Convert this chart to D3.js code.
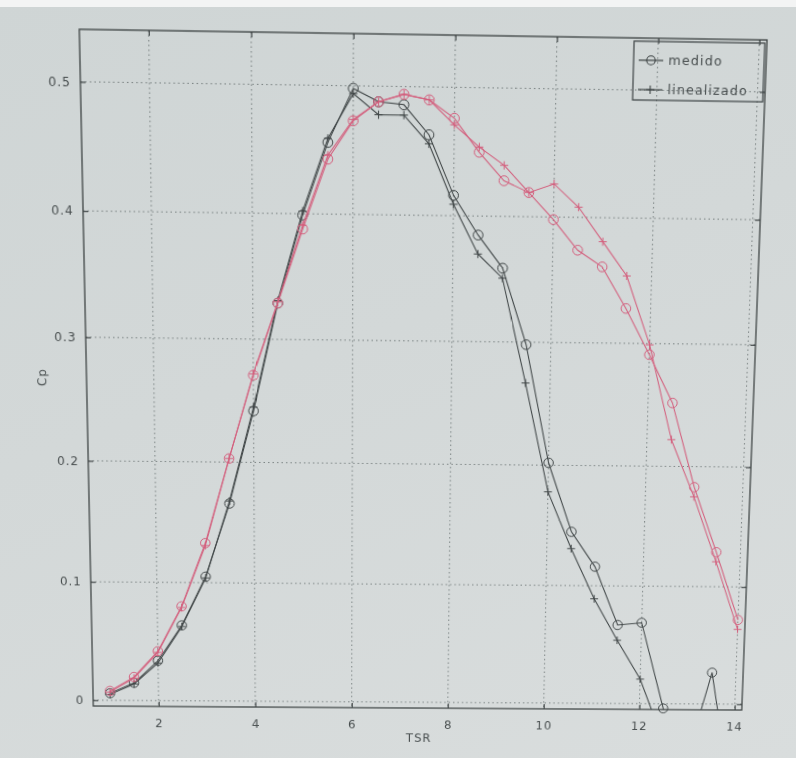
<!DOCTYPE html>
<html>
<head>
<meta charset="utf-8">
<script src="https://cdn.jsdelivr.net/npm/d3@7"></script>
<style>
  html, body { margin: 0; padding: 0; }
  body {
    width: 796px; height: 758px; overflow: hidden; position: relative;
    background: linear-gradient(160deg, #cfd5d5 0%, #d3d8d8 45%, #d9dddd 100%);
  }
  #topstrip { position: absolute; left: 0; top: 0; width: 796px; height: 7px; background: #f3f4f4; }
  #chart { position: absolute; left: 0; top: 0; transform-origin: 0 0; }
  text { font-family: "DejaVu Sans", sans-serif; fill: #484e4f; }
</style>
</head>
<body>
<div id="topstrip"></div>
<svg id="chart" width="796" height="758"></svg>
<script>
// Tip speed ratio samples
const tsr = [1, 1.5, 2, 2.5, 3, 3.5, 4, 4.5, 5, 5.5, 6, 6.5, 7, 7.5, 8, 8.5,
             9, 9.5, 10, 10.5, 11, 11.5, 12, 12.5, 13, 13.5, 14];

// Power coefficient, first rotor (dark curves)
const cpMedidoA = [0.006, 0.015, 0.034, 0.064, 0.105, 0.166, 0.242, 0.329, 0.399, 0.456,
                   0.498, 0.488, 0.486, 0.463, 0.416, 0.385, 0.359, 0.298, 0.202, 0.145,
                   0.116, 0.067, 0.069, -0.004, -0.052, 0.027, -0.085];
const cpLinealizadoA = [0.005, 0.014, 0.032, 0.063, 0.104, 0.168, 0.245, 0.331, 0.402, 0.459,
                        0.494, 0.478, 0.478, 0.456, 0.409, 0.370, 0.351, 0.267, 0.178, 0.131,
                        0.089, 0.054, 0.021, -0.030, -0.080, -0.120, -0.160];

// Power coefficient, second rotor (red curves)
const cpMedidoB = [0.008, 0.020, 0.042, 0.080, 0.133, 0.203, 0.271, 0.329, 0.388, 0.443,
                   0.473, 0.488, 0.494, 0.490, 0.476, 0.450, 0.428, 0.419, 0.398, 0.374,
                   0.361, 0.328, 0.291, 0.252, 0.183, 0.129, 0.072];
const cpLinealizadoB = [0.007, 0.019, 0.041, 0.079, 0.131, 0.203, 0.272, 0.330, 0.391, 0.446,
                        0.474, 0.488, 0.494, 0.490, 0.471, 0.454, 0.440, 0.419, 0.426, 0.408,
                        0.381, 0.354, 0.299, 0.222, 0.175, 0.121, 0.064];

const xTicks = [2, 4, 6, 8, 10, 12, 14];
const yTicks = [0, 0.1, 0.2, 0.3, 0.4, 0.5];
const legendLabels = ["medido", "linealizado"];

// Axes box (flat coordinates) and the tilted quadrilateral the screen shows it in
const L = 86, T = 32, R = 754, B = 706;
const screenQuad = [[79.3, 29.3], [767, 40], [741.7, 710], [93.3, 706]];

const dark = "#3f4546";
const red = "#d35f7d";

const x = d3.scaleLinear().domain([0.65, 14.15]).range([L, R]);
const y = d3.scaleLinear().domain([-0.005, 0.54]).range([B, T]);

const svg = d3.select("#chart");

// projective map from the flat box onto the quadrilateral
function quadTransform(rx, ry, w, h, q) {
  const [p0, p1, p2, p3] = q;
  const dx1 = p1[0] - p2[0], dx2 = p3[0] - p2[0], sx = p0[0] - p1[0] + p2[0] - p3[0];
  const dy1 = p1[1] - p2[1], dy2 = p3[1] - p2[1], sy = p0[1] - p1[1] + p2[1] - p3[1];
  const den = dx1 * dy2 - dx2 * dy1;
  const g = (sx * dy2 - dx2 * sy) / den;
  const k = (dx1 * sy - sx * dy1) / den;
  const a = p1[0] - p0[0] + g * p1[0], b = p3[0] - p0[0] + k * p3[0], c = p0[0];
  const d = p1[1] - p0[1] + g * p1[1], e = p3[1] - p0[1] + k * p3[1], f = p0[1];
  const m11 = a / w, m12 = b / h, m13 = c - a * rx / w - b * ry / h;
  const m21 = d / w, m22 = e / h, m23 = f - d * rx / w - e * ry / h;
  const m31 = g / w, m32 = k / h, m33 = 1 - g * rx / w - k * ry / h;
  return `matrix3d(${m11},${m21},0,${m31},${m12},${m22},0,${m32},0,0,1,0,${m13},${m23},0,${m33})`;
}
svg.style("transform", quadTransform(L, T, R - L, B - T, screenQuad));

svg.append("defs").append("clipPath").attr("id", "plotClip")
  .append("rect").attr("x", L).attr("y", T).attr("width", R - L).attr("height", B - T);

// dotted grid
const grid = svg.append("g").attr("stroke", "#7b8383").attr("stroke-width", 1)
  .attr("stroke-dasharray", "1.5,3");
grid.selectAll(".gx").data(xTicks).join("line")
  .attr("x1", d => x(d)).attr("x2", d => x(d)).attr("y1", T).attr("y2", B);
grid.selectAll(".gy").data(yTicks).join("line")
  .attr("x1", L).attr("x2", R).attr("y1", d => y(d)).attr("y2", d => y(d));

// axes with inward ticks on all four sides
function styleAxis(g) {
  g.select(".domain").remove();
  g.selectAll(".tick line").attr("stroke", dark).attr("stroke-width", 1.2);
  g.selectAll(".tick text").attr("font-size", 12).attr("letter-spacing", 1)
    .attr("fill", "#484e4f").attr("font-family", "DejaVu Sans, sans-serif");
}
svg.append("g").attr("transform", `translate(0,${B})`)
  .call(d3.axisBottom(x).tickValues(xTicks).tickSizeInner(-5).tickSizeOuter(0).tickPadding(13)
    .tickFormat(d3.format("d")))
  .call(styleAxis);
svg.append("g").attr("transform", `translate(${L},0)`)
  .call(d3.axisLeft(y).tickValues(yTicks).tickSizeInner(-5).tickSizeOuter(0).tickPadding(9)
    .tickFormat(d => d === 0 ? "0" : d3.format(".1f")(d)))
  .call(styleAxis);
svg.append("g").attr("transform", `translate(0,${T})`)
  .call(d3.axisTop(x).tickValues(xTicks).tickSizeInner(-5).tickSizeOuter(0).tickFormat(""))
  .call(styleAxis);
svg.append("g").attr("transform", `translate(${R},0)`)
  .call(d3.axisRight(y).tickValues(yTicks).tickSizeInner(-5).tickSizeOuter(0).tickFormat(""))
  .call(styleAxis);

// curves
const series = [
  { values: cpMedidoA, color: dark, marker: "circle" },
  { values: cpLinealizadoA, color: dark, marker: "plus" },
  { values: cpMedidoB, color: red, marker: "circle" },
  { values: cpLinealizadoB, color: red, marker: "plus" }
];
const line = d3.line().x(d => x(d[0])).y(d => y(d[1]));
const plot = svg.append("g");
const [yMin, yMax] = y.domain();

series.forEach(s => {
  const pts = tsr.map((t, i) => [t, s.values[i]]);
  plot.append("path").attr("d", line(pts)).attr("clip-path", "url(#plotClip)")
    .attr("fill", "none").attr("stroke", s.color).attr("stroke-width", 1.05);
  const inside = pts.filter(p => p[1] >= yMin && p[1] <= yMax);
  if (s.marker === "circle") {
    plot.append("g").selectAll("circle").data(inside).join("circle")
      .attr("cx", p => x(p[0])).attr("cy", p => y(p[1])).attr("r", 4.8)
      .attr("fill", "none").attr("stroke", s.color).attr("stroke-width", 1);
  } else {
    plot.append("g").selectAll("path").data(inside).join("path")
      .attr("d", p => `M${x(p[0]) - 4},${y(p[1])}h8M${x(p[0])},${y(p[1]) - 4}v8`)
      .attr("stroke", s.color).attr("stroke-width", 1);
  }
});

// frame
svg.append("rect").attr("x", L).attr("y", T).attr("width", R - L).attr("height", B - T)
  .attr("fill", "none").attr("stroke", dark).attr("stroke-width", 1.3);

// axis titles
svg.append("text").attr("x", (L + R) / 2).attr("y", B + 36).attr("text-anchor", "middle")
  .attr("font-size", 12).attr("letter-spacing", 1).text("TSR");
svg.append("text").attr("transform", `translate(${L - 40},${(T + B) / 2}) rotate(-90)`)
  .attr("text-anchor", "middle").attr("font-size", 12).attr("letter-spacing", 1).text("Cp");

// legend
const lgW = 128, lgH = 56;
const lg = svg.append("g").attr("transform", `translate(${R - 2 - lgW},${T + 3})`);
lg.append("rect").attr("width", lgW).attr("height", lgH).attr("fill", "none")
  .attr("stroke", dark).attr("stroke-width", 1.2);
const lgRows = [18, 46];
legendLabels.forEach((lab, i) => {
  const yy = lgRows[i];
  lg.append("line").attr("x1", 5).attr("x2", 29).attr("y1", yy).attr("y2", yy)
    .attr("stroke", dark).attr("stroke-width", 1.2);
  if (i === 0) {
    lg.append("circle").attr("cx", 17).attr("cy", yy).attr("r", 4.2)
      .attr("fill", "none").attr("stroke", dark).attr("stroke-width", 1.1);
  } else {
    lg.append("path").attr("d", `M13,${yy}h8M17,${yy - 4}v8`)
      .attr("stroke", dark).attr("stroke-width", 1.1);
  }
  lg.append("text").attr("x", 34).attr("y", yy + 4.5).attr("font-size", 12.5)
    .attr("letter-spacing", 1.1).text(lab);
});
</script>
</body>
</html>
